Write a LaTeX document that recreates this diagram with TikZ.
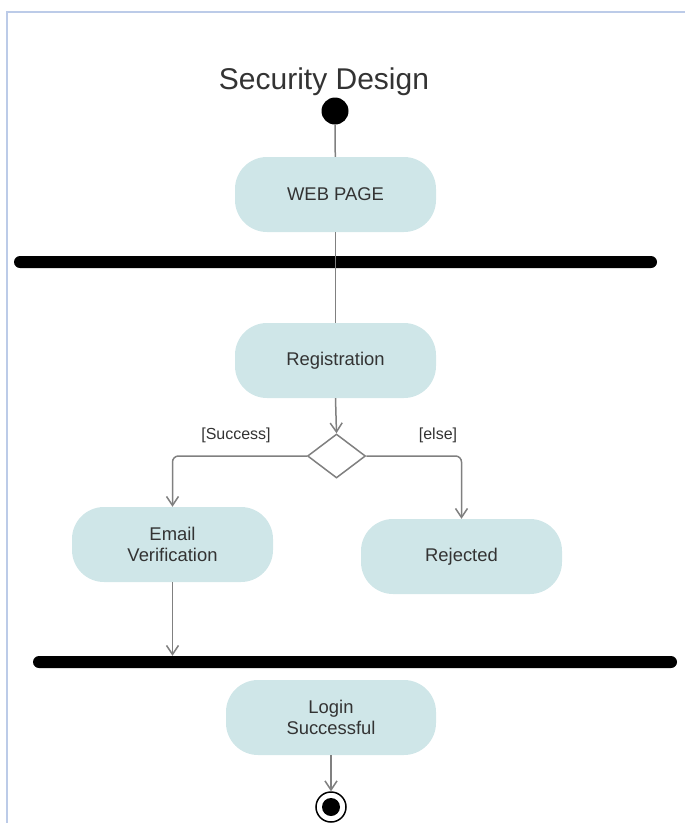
\documentclass[tikz,border=0pt]{standalone}
\usepackage{fontspec}
\setmainfont{Liberation Sans}
\usetikzlibrary{shapes.geometric,arrows.meta}
\definecolor{actfill}{HTML}{CFE6E8}
\definecolor{txt}{HTML}{333333}
\definecolor{lin}{HTML}{808080}
\definecolor{framec}{HTML}{BCCBE8}
\tikzset{
  act/.style={fill=actfill, rounded corners=32pt, minimum width=201pt, minimum height=75pt,
    text=txt, font=\fontsize{18.4}{21}\selectfont, align=center, inner sep=0pt},
  bar/.style={fill=black, rounded corners=6pt, minimum height=12pt, inner sep=0pt},
  conn/.style={draw=lin, line width=1.5pt},
  arr/.style={conn, -{Straight Barb[length=9pt,width=12pt]}},
  guard/.style={text=txt, font=\fontsize{16}{19}\selectfont},
}
\begin{document}
\begin{tikzpicture}[x=1pt,y=-1pt]
\useasboundingbox (0,0) rectangle (685,823);
\clip (0,0) rectangle (685,823);
\draw[framec, line width=1.5pt] (7,823) -- (7,12) -- (685,12);
\node[text=txt, font=\fontsize{30}{35}\selectfont] (title) at (324,82) {Security Design};
\node[circle, fill=black, minimum size=27pt, inner sep=0pt] (start) at (335,111) {};
\node[act] (web) at (335.5,194.5) {WEB PAGE};
\node[bar, minimum width=643pt] (bar1) at (335.5,262) {};
\node[act] (reg) at (335.5,360.5) {Registration};
\node[diamond, draw=lin, line width=1.5pt, fill=white, minimum width=58pt, minimum height=44pt, aspect=1.32, inner sep=0pt] (dec) at (336.5,456) {};
\node[act] (email) at (172.5,544.5) {Email\\Verification};
\node[act] (rej) at (461.5,556.5) {Rejected};
\node[bar, minimum width=644pt] (bar2) at (355,662) {};
\node[act, minimum width=210pt] (login) at (331,717.5) {Login\\Successful};
\node[circle, draw=black, fill=white, line width=1.5pt, minimum size=30pt, inner sep=0pt] (end) at (331,807) {};
\fill[black] (end.center) circle (9pt);

\draw[conn] (start) -- (web);
\draw[conn] (web) -- (reg);
\draw[arr] (reg.south) -- (dec.north);
\draw[arr, rounded corners=6pt] (dec.west) -| (email.north);
\draw[arr, rounded corners=6pt] (dec.east) -| (rej.north);
\draw[arr] (email.south) -- (email.south |- bar2.north);
\draw[arr] (login.south) -- (end.north);

\node[guard] (lsucc) at (236,435) {[Success]};
\node[guard] (lelse) at (438,435) {[else]};
\end{tikzpicture}
\end{document}
